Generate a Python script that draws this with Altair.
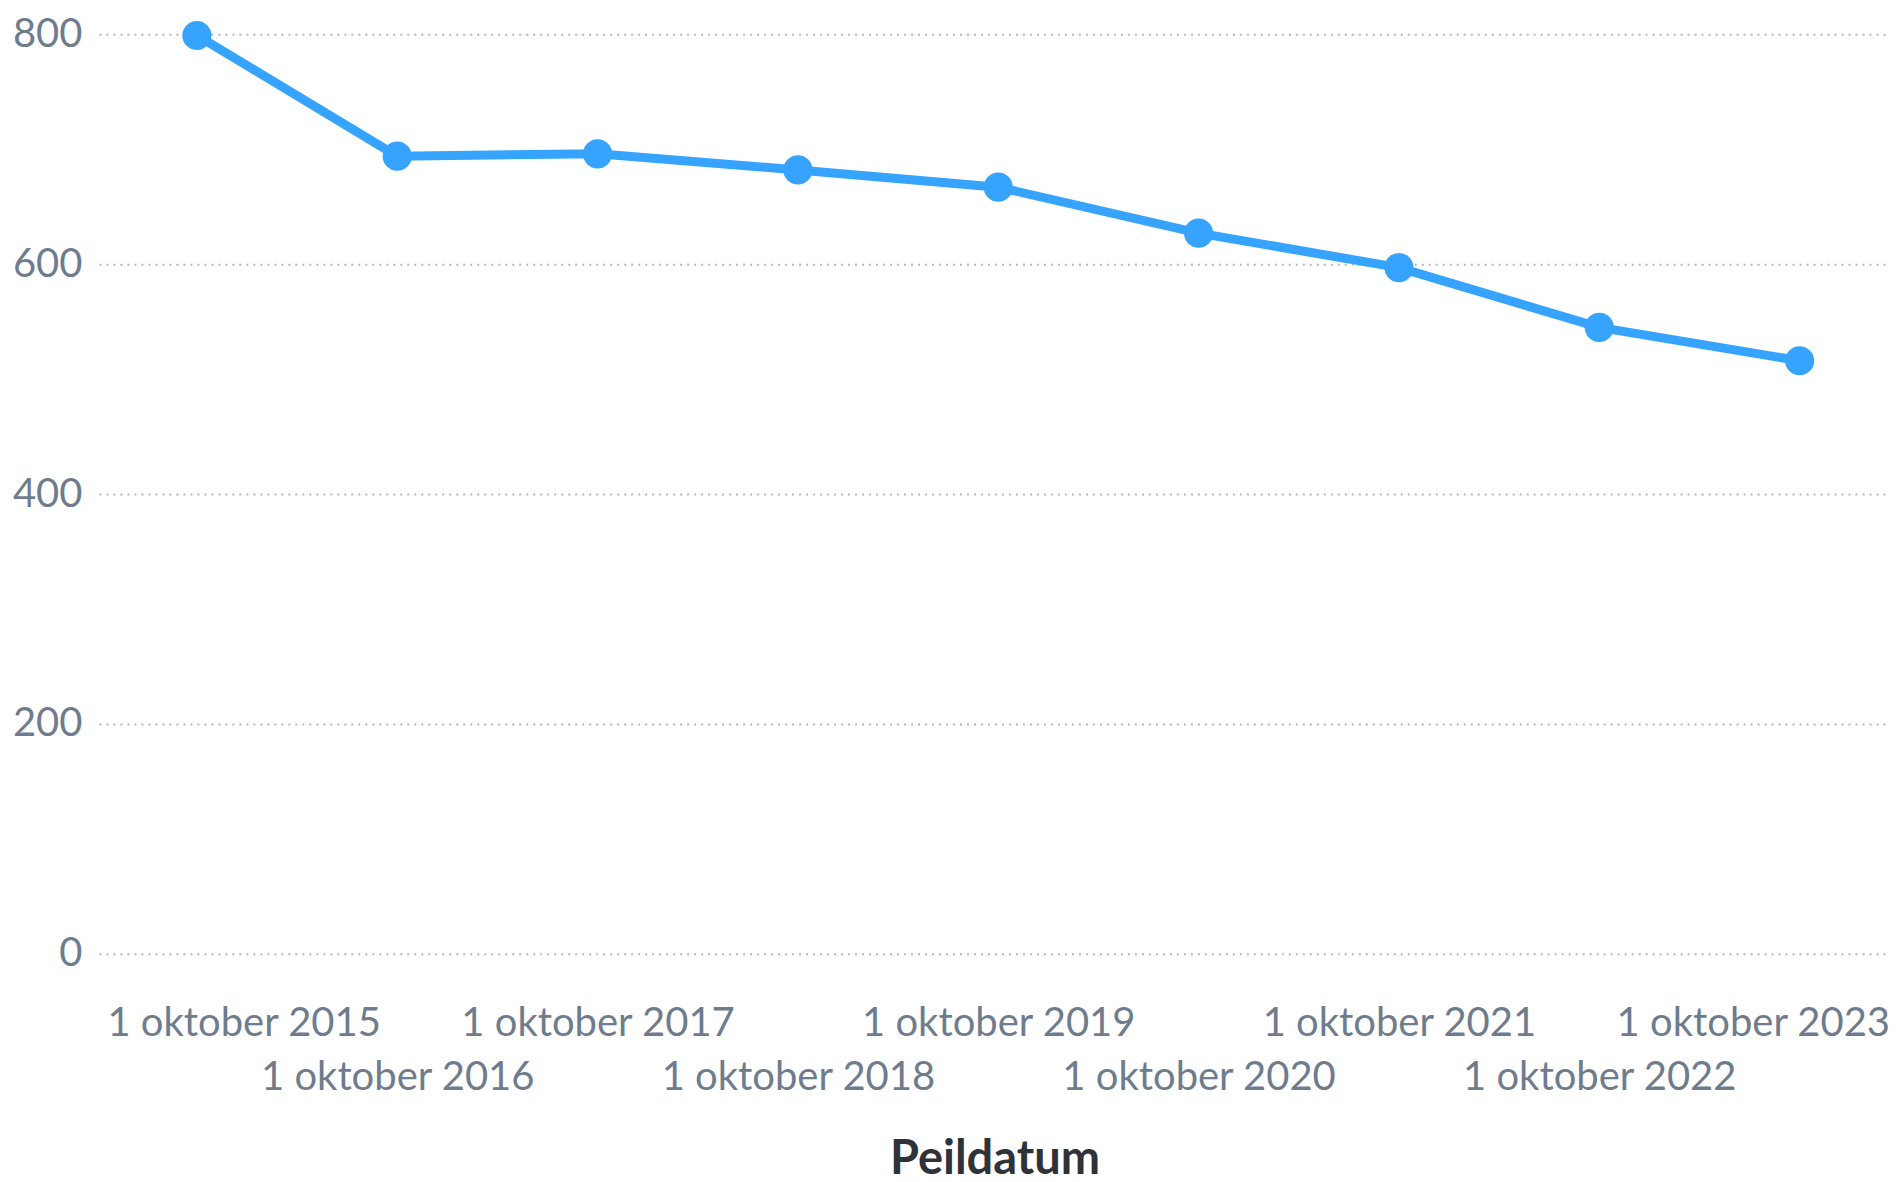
import altair as alt
import pandas as pd

peildatum = [
    "1 oktober 2015", "1 oktober 2016", "1 oktober 2017", "1 oktober 2018",
    "1 oktober 2019", "1 oktober 2020", "1 oktober 2021", "1 oktober 2022",
    "1 oktober 2023",
]
aantal = [799, 694, 696, 682, 667, 627, 597, 545, 516]
y_ticks = [0, 200, 400, 600, 800]

df = pd.DataFrame({"Peildatum": peildatum, "Aantal": aantal})

LINE = "#36a3ff"
LABEL = "#6e7c8e"
FONT = "Lato"

x_enc = alt.X(
    "Peildatum:O",
    sort=peildatum,
    scale=alt.Scale(type="point", padding=0.47, align=0.52),
    axis=alt.Axis(
        title="Peildatum",
        titleFont=FONT,
        titleFontSize=47,
        titleFontWeight="bold",
        titleColor="#2f3339",
        titlePadding=39,
        labelFont=FONT,
        labelFontSize=40,
        labelColor=LABEL,
        labelAngle=0,
        labelBaseline="top",
        labelLineHeight=54,
        labelPadding=50,
        labelLimit=0,
        labelOverlap=False,
        labelFlush=120,
        labelFlushOffset=90,
        labelExpr="toNumber(substring(datum.label, 10)) % 2 == 0 ? ['', datum.label] : [datum.label]",
        ticks=False,
        tickSize=0,
        domain=False,
        grid=False,
    ),
)

y_enc = alt.Y(
    "Aantal:Q",
    scale=alt.Scale(domain=[0, 800], nice=False),
    axis=alt.Axis(
        title=None,
        values=y_ticks,
        labelFont=FONT,
        labelFontSize=40,
        labelColor=LABEL,
        labelPadding=17,
        ticks=False,
        domain=False,
        grid=True,
        gridColor="#b4b8be",
        gridWidth=2,
        gridDash=[2, 5],
    ),
)

base = alt.Chart(df).encode(x=x_enc, y=y_enc)

line = base.mark_line(color=LINE, strokeWidth=9)
points = base.mark_circle(color=LINE, opacity=1, size=850)

chart = (
    alt.layer(line, points)
    .properties(
        width=1792,
        height=920,
        padding={"left": 4, "top": 6, "right": 0, "bottom": 0},
        background="white",
    )
    .configure_view(stroke=None)
)

chart.save("out.html", embed_options={"renderer": "svg", "actions": False})
